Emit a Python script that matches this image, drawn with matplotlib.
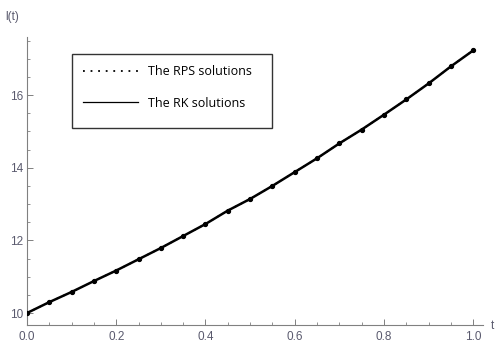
import matplotlib
matplotlib.use("Agg")
import matplotlib.pyplot as plt
from matplotlib.lines import Line2D
from matplotlib.patches import Rectangle
from matplotlib.ticker import MultipleLocator

t = [0.0, 0.05, 0.1, 0.15, 0.2, 0.25, 0.3, 0.35, 0.4, 0.45, 0.5,
     0.55, 0.6, 0.65, 0.7, 0.75, 0.8, 0.85, 0.9, 0.95, 1.0]
rps = [10.0, 10.30, 10.58, 10.88, 11.17, 11.48, 11.79, 12.12, 12.45, 12.82, 13.14,
       13.50, 13.88, 14.26, 14.67, 15.05, 15.46, 15.88, 16.32, 16.79, 17.23]
rk = [10.0, 10.30, 10.58, 10.88, 11.17, 11.48, 11.79, 12.12, 12.45, 12.82, 13.14,
      13.50, 13.88, 14.26, 14.67, 15.05, 15.46, 15.88, 16.32, 16.79, 17.23]
xticks = [0.0, 0.2, 0.4, 0.6, 0.8, 1.0]
yticks = [10, 12, 14, 16]
labels = ["The RPS solutions", "The RK solutions"]

W, H = 498, 340
fig = plt.figure(figsize=(W / 100, H / 100), dpi=100)
ax = fig.add_axes([27 / W, 15 / H, (483 - 27) / W, (325 - 37) / H])

axis_col = "#808080"
lab_col = "#5a5a6e"

ax.plot(t, rk, color="black", lw=1.8, solid_capstyle="round", zorder=3)
ax.plot(t, rps, color="black", lw=1.2, linestyle=(0, (1, 3)), marker="o",
        markersize=2.8, zorder=4)

ax.set_xlim(0, 1.022)
ax.set_ylim(9.67, 17.6)

for s in ["top", "right"]:
    ax.spines[s].set_visible(False)
for s in ["left", "bottom"]:
    ax.spines[s].set_color(axis_col)
    ax.spines[s].set_linewidth(0.8)

ax.set_xticks(xticks)
ax.set_xticklabels(["%.1f" % v for v in xticks])
ax.set_yticks(yticks)
ax.set_yticklabels([str(v) for v in yticks])
ax.xaxis.set_minor_locator(MultipleLocator(0.05))
ax.yaxis.set_minor_locator(MultipleLocator(0.5))
ax.tick_params(which="major", direction="in", length=4, width=0.7, color=axis_col,
               labelsize=8.5, labelcolor=lab_col, pad=3)
ax.tick_params(which="minor", direction="in", length=2.2, width=0.6, color=axis_col)
ax.tick_params(axis="x", pad=4)
for lbl in ax.get_xticklabels() + ax.get_yticklabels():
    lbl.set_family("Liberation Sans")

fig.text(12 / W, 1 - 17 / H, "l(t)", ha="center", va="center", fontsize=8.5,
         color=lab_col, family="Liberation Sans")
fig.text(492 / W, 1 - 326 / H, "t", ha="center", va="center", fontsize=8.5,
         color=lab_col, family="Liberation Sans")

# legend frame
fig.patches.append(Rectangle((72 / W, 1 - 128 / H), 200 / W, 74 / H,
                             transform=fig.transFigure, facecolor="white",
                             edgecolor="#333333", lw=1.0, zorder=5))

handles = [Line2D([], [], color="black", lw=1.3, linestyle=(0, (1, 3.2))),
           Line2D([], [], color="black", lw=0.9)]
leg = fig.legend(handles, labels, loc="upper left",
                 bbox_to_anchor=(83 / W, 1 - 65 / H), bbox_transform=fig.transFigure,
                 frameon=False, prop={"family": "Open Sans", "size": 9},
                 handlelength=4.4, handletextpad=0.8, labelspacing=1.5,
                 borderpad=0, borderaxespad=0)
leg.set_zorder(6)

fig.savefig("out.png", dpi=100)
